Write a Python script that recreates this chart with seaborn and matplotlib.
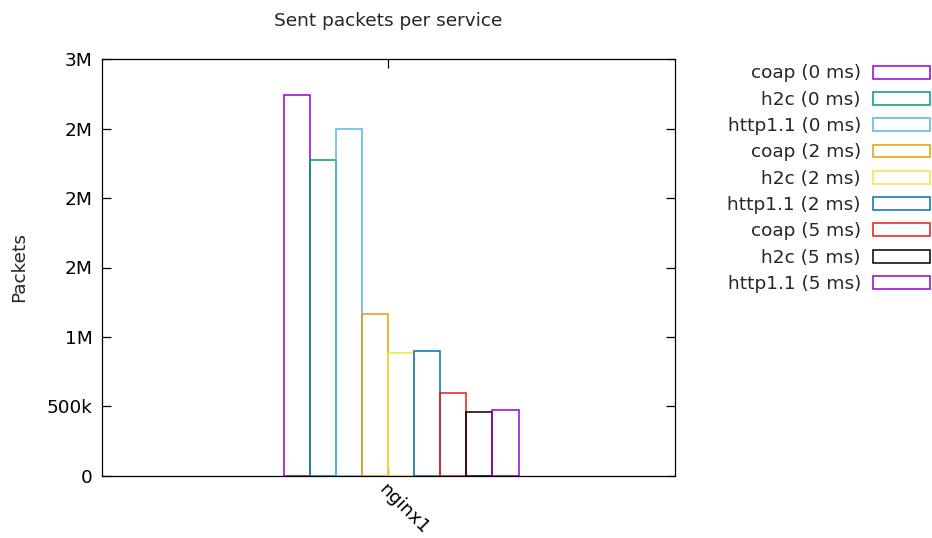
import matplotlib
matplotlib.use("Agg")
import matplotlib.pyplot as plt
import matplotlib.transforms as mtransforms
import seaborn as sns
import pandas as pd

# Sent packets for the nginx1 service, one bar per protocol/latency run
service = "nginx1"
configs = [
    "coap (0 ms)", "h2c (0 ms)", "http1.1 (0 ms)",
    "coap (2 ms)", "h2c (2 ms)", "http1.1 (2 ms)",
    "coap (5 ms)", "h2c (5 ms)", "http1.1 (5 ms)",
]
packets = [2740000, 2275000, 2500000, 1162000, 884000, 901000, 595000, 458000, 472000]
colors = ["#9400D3", "#009E73", "#56B4E9", "#E69F00", "#F0E442",
          "#0072B2", "#E51E10", "#000000", "#9400D3"]

yticks = [0, 500000, 1000000, 1500000, 2000000, 2500000, 3000000]


def short_count(v):
    if v == 0:
        return "0"
    if v >= 1e6:
        return f"{v / 1e6:.0f}M"
    return f"{v / 1e3:.0f}k"


df = pd.DataFrame({"config": configs, "packets": packets})

sns.set_style("white")
plt.rcParams["font.family"] = ["DejaVu Sans"]
FS = 13.3
plt.rcParams["font.size"] = FS

fig = plt.figure(figsize=(9.32, 5.38), dpi=100)
W, H = 932, 538
ax = fig.add_axes([102 / W, (H - 475.7) / H, 572.7 / W, 416.4 / H])

sns.barplot(data=df, x="config", y="packets", hue="config", order=configs,
            hue_order=configs, palette=colors, fill=False, width=1.0,
            linewidth=1.1, legend=False, saturation=1, ax=ax)

ax.set_xlim(-7.5, 14.5)
ax.set_ylim(0, 3000000)
ax.set_xticks([3.5])
ax.set_xticklabels([service], rotation=-45, ha="left", va="top",
                   rotation_mode="anchor")
# nudge the rotated category label a few pixels to the right
shift = mtransforms.ScaledTranslation(4 / 100, 0, fig.dpi_scale_trans)
for lbl in ax.get_xticklabels():
    lbl.set_transform(lbl.get_transform() + shift)
ax.set_yticks(yticks)
ax.set_yticklabels([short_count(v) for v in yticks])
ax.tick_params(axis="both", direction="in", length=6.5, width=0.9,
               color="black", labelsize=FS, labelcolor="black",
               top=True, right=True, left=True, bottom=True)
ax.tick_params(axis="y", pad=7)
ax.tick_params(axis="x", pad=3)
for s in ax.spines.values():
    s.set_visible(True)
    s.set_color("black")
    s.set_linewidth(0.9)

ax.set_xlabel("")
ax.set_ylabel("Packets", fontsize=FS, labelpad=13)
ax.set_title("Sent packets per service", fontsize=FS, pad=24)

leg = ax.legend(handles=list(ax.patches), labels=configs, markerfirst=False,
                frameon=False, loc="upper right",
                bbox_to_anchor=(930 / W, (H - 64.5) / H),
                bbox_transform=fig.transFigure, borderaxespad=0, borderpad=0,
                handlelength=3.1, handleheight=0.7, labelspacing=0.45,
                handletextpad=0.64, fontsize=FS)

fig.savefig("out.png", dpi=100)
